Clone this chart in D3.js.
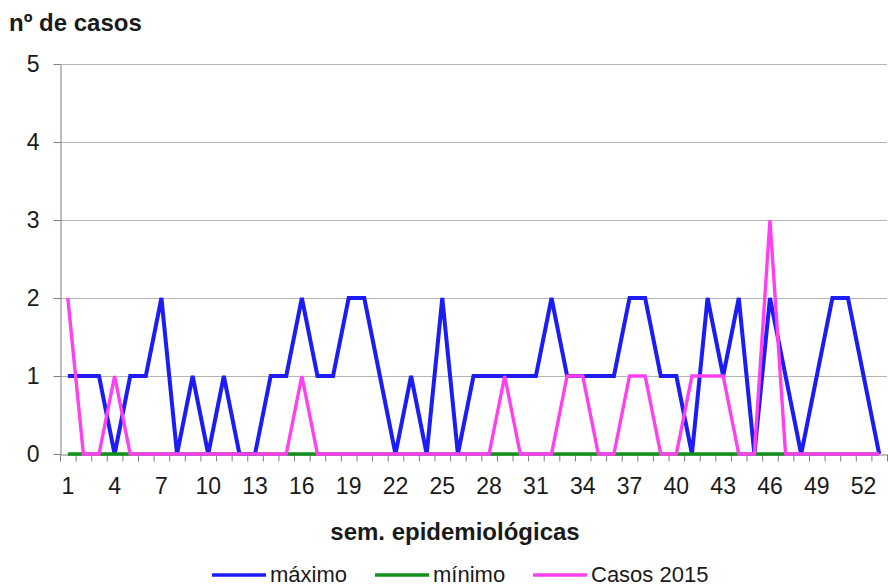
<!doctype html>
<html lang="es">
  <head>
    <meta charset="UTF-8" />
    <title>nº de casos</title>
    <script src="https://d3js.org/d3.v7.min.js"></script>
    <style>
      body,
      html {
        margin: 0;
        padding: 0;
        background: #fff;
      }
      svg {
        display: block;
        font-family: "Liberation Sans", Arial, sans-serif;
      }
      .grid line {
        stroke: #b4b4b4;
        stroke-width: 1px;
      }
      .axis path,
      .axis line {
        stroke: #7f7f7f;
      }
      .axis text {
        font-size: 23px;
        fill: #1a1a1a;
      }
      .serie {
        fill: none;
        stroke-linejoin: miter;
      }
    </style>
  </head>
  <body>
    <svg id="chart" width="888" height="588"></svg>
    <script>
      // weeks 1..53
      const semanas = d3.range(1, 54);
      const maximo = [
        1, 1, 1, 0, 1, 1, 2, 0, 1, 0, 1, 0, 0, 1, 1, 2, 1, 1, 2, 2, 1, 0, 1, 0, 2, 0,
        1, 1, 1, 1, 1, 2, 1, 1, 1, 1, 2, 2, 1, 1, 0, 2, 1, 2, 0, 2, 1, 0, 1, 2, 2, 1, 0
      ];
      const minimo = semanas.map(() => 0);
      const casos2015 = [
        2, 0, 0, 1, 0, 0, 0, 0, 0, 0, 0, 0, 0, 0, 0, 1, 0, 0, 0, 0, 0, 0, 0, 0, 0, 0,
        0, 0, 1, 0, 0, 0, 1, 1, 0, 0, 1, 1, 0, 0, 1, 1, 1, 0, 0, 3, 0, 0, 0, 0, 0, 0, 0
      ];
      const yTicks = [0, 1, 2, 3, 4, 5];
      const xLabels = d3.range(1, 54, 3);

      const series = [
        { name: "máximo", values: maximo, color: "#1c1cf5", width: 4 },
        { name: "mínimo", values: minimo, color: "#11901a", width: 3.4 },
        { name: "Casos 2015", values: casos2015, color: "#ff40f2", width: 3.4 }
      ];

      const svg = d3.select("#chart");
      const plotLeft = 60,
        plotRight = 887,
        plotTop = 64,
        plotBottom = 454;

      const x = d3.scaleLinear().domain([0.5, 53.5]).range([plotLeft, plotRight]);
      const y = d3.scaleLinear().domain([0, 5]).range([plotBottom, plotTop]);

      // horizontal gridlines
      svg
        .append("g")
        .attr("class", "grid")
        .selectAll("line")
        .data(yTicks.slice(1))
        .join("line")
        .attr("x1", plotLeft)
        .attr("x2", plotRight)
        .attr("y1", (d) => Math.round(y(d)) + 0.5)
        .attr("y2", (d) => Math.round(y(d)) + 0.5)
        .attr("stroke", (d) => (d === 5 ? "#8c8c8c" : null));

      // y axis
      svg
        .append("g")
        .attr("class", "axis")
        .attr("transform", `translate(${plotLeft + 0.5},0)`)
        .call(
          d3
            .axisLeft(y)
            .tickValues(yTicks)
            .tickFormat(d3.format("d"))
            .tickSize(7)
            .tickSizeOuter(0)
            .tickPadding(14)
        );

      // x axis: tick marks at category boundaries
      svg
        .append("g")
        .attr("class", "axis")
        .attr("transform", `translate(0,${plotBottom + 0.5})`)
        .call(
          d3
            .axisBottom(x)
            .tickValues(d3.range(0.5, 54, 1))
            .tickFormat("")
            .tickSize(7)
            .tickSizeOuter(0)
        );

      // x labels every 3 weeks, centered on the category
      svg
        .append("g")
        .attr("class", "axis")
        .selectAll("text")
        .data(xLabels)
        .join("text")
        .attr("x", (d) => x(d))
        .attr("y", 494)
        .attr("text-anchor", "middle")
        .text((d) => d);

      const line = d3
        .line()
        .x((d, i) => x(semanas[i]))
        .y((d) => y(d));

      svg
        .append("g")
        .selectAll("path")
        .data(series)
        .join("path")
        .attr("class", "serie")
        .attr("stroke", (d) => d.color)
        .attr("stroke-width", (d) => d.width)
        .attr("d", (d) => line(d.values));

      // titles
      svg
        .append("text")
        .attr("x", 9)
        .attr("y", 31)
        .attr("font-size", 24)
        .attr("font-weight", "bold")
        .attr("fill", "#1a1a1a")
        .text("nº de casos");

      svg
        .append("text")
        .attr("x", 455)
        .attr("y", 540)
        .attr("text-anchor", "middle")
        .attr("font-size", 24)
        .attr("font-weight", "bold")
        .attr("fill", "#1a1a1a")
        .text("sem. epidemiológicas");

      // legend
      const legendX = [212, 375, 533];
      const legend = svg
        .append("g")
        .selectAll("g")
        .data(series)
        .join("g")
        .attr("transform", (d, i) => `translate(${legendX[i]},575)`);
      legend
        .append("line")
        .attr("x1", 0)
        .attr("x2", 54)
        .attr("y1", 0)
        .attr("y2", 0)
        .attr("stroke", (d) => d.color)
        .attr("stroke-width", 3.4);
      legend
        .append("text")
        .attr("x", 58)
        .attr("y", 7)
        .attr("font-size", 22)
        .attr("fill", "#1a1a1a")
        .text((d) => d.name);
    </script>
  </body>
</html>
